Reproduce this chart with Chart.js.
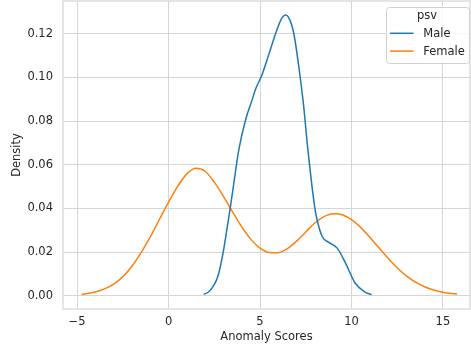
<!DOCTYPE html>
<html>
<head>
<meta charset="utf-8">
<script src="https://cdn.jsdelivr.net/npm/chart.js@4/dist/chart.umd.min.js"></script>
<style>
    body { margin: 0; background: #fff; }
    #contenedor { width: 471px; height: 349px; }
</style>
</head>
<body>
<div id="contenedor"><canvas id="grafica" width="471" height="349"></canvas></div>
<script>
// curvas de densidad (kde) por grupo
var x_male = [1.92, 2.2, 2.4, 2.6, 2.75, 3.0, 3.2, 3.37, 3.57, 3.84, 4.21, 4.57, 4.75, 5.1, 5.5, 5.85, 6.15, 6.4, 6.65, 6.85, 7.12, 7.39, 7.58, 7.76, 8.0, 8.12, 8.4, 8.76, 9.22, 9.67, 10.2, 10.77, 11.1]
var y_male = [0.0006, 0.0018, 0.0038, 0.0068, 0.0104, 0.0205, 0.031, 0.040, 0.0516, 0.0668, 0.0805, 0.0897, 0.0945, 0.101, 0.111, 0.120, 0.1265, 0.1286, 0.126, 0.120, 0.105, 0.0866, 0.0699, 0.056, 0.040, 0.0348, 0.0271, 0.0244, 0.0218, 0.015, 0.0058, 0.0015, 0.0005]

var x_female = [-4.75, -4.5, -4.0, -3.5, -3.0, -2.5, -2.0, -1.5, -1.0, -0.5, 0.0, 0.5, 1.0, 1.5, 2.0, 2.5, 3.0, 3.5, 4.0, 4.5, 5.0, 5.5, 6.0, 6.5, 7.0, 7.5, 8.0, 8.5, 9.0, 9.5, 10.0, 10.5, 11.0, 11.5, 12.0, 12.5, 13.0, 13.5, 14.0, 14.5, 15.0, 15.5, 15.77]
var y_female = [0.0005, 0.0009, 0.0017, 0.0031, 0.0053, 0.0087, 0.0135, 0.0197, 0.0269, 0.0349, 0.0429, 0.0501, 0.0558, 0.0584, 0.0570, 0.0520, 0.0455, 0.0384, 0.0315, 0.0258, 0.0218, 0.0198, 0.0197, 0.0216, 0.0250, 0.0292, 0.0333, 0.0362, 0.0375, 0.0371, 0.0348, 0.0313, 0.0268, 0.0220, 0.0172, 0.0128, 0.0091, 0.0062, 0.0041, 0.0026, 0.0016, 0.0010, 0.0008]

var ticks_x = [-5, 0, 5, 10, 15]
var ticks_y = [0, 0.02, 0.04, 0.06, 0.08, 0.10, 0.12]
var grupos = ["Male", "Female"]
var titulo_leyenda = "psv"

var color_grupos = ["#1f77b4", "#ff7f0e"]
var color_rejilla = "#d6d6d6"
var color_texto = "#262626"
var fuente = "DejaVu Sans"

function unir(xs, ys) {
    var puntos = []
    xs.forEach((x, i) => puntos.push({ x: x, y: ys[i] }))
    return puntos
}

// marco completo del area de la grafica (estilo whitegrid)
var marco = {
    id: "marco",
    beforeDatasetsDraw(chart) {
        var a = chart.chartArea
        var ctx = chart.ctx
        ctx.save()
        ctx.strokeStyle = color_rejilla
        ctx.lineWidth = 1.25
        ctx.strokeRect(a.left, a.top, a.right - a.left, a.bottom - a.top)
        ctx.restore()
    }
}

// leyenda dentro de la grafica, arriba a la derecha
var leyenda = {
    id: "leyenda",
    afterDraw(chart) {
        var ctx = chart.ctx
        var caja = { x: 386.5, y: 7.5, w: 83, h: 56 }
        ctx.save()
        ctx.beginPath()
        ctx.roundRect(caja.x, caja.y, caja.w, caja.h, 3)
        ctx.fillStyle = "rgba(255,255,255,0.8)"
        ctx.fill()
        ctx.strokeStyle = "#d0d0d0"
        ctx.lineWidth = 1
        ctx.stroke()

        ctx.font = "11.5px '" + fuente + "'"
        ctx.fillStyle = color_texto
        ctx.textBaseline = "alphabetic"
        ctx.textAlign = "center"
        ctx.fillText(titulo_leyenda, 427, 18.5)

        ctx.textAlign = "left"
        grupos.forEach((g, i) => {
            var y = 33.3 + i * 17.8
            ctx.beginPath()
            ctx.moveTo(390, y)
            ctx.lineTo(413.5, y)
            ctx.strokeStyle = color_grupos[i]
            ctx.lineWidth = 1.5
            ctx.stroke()
            ctx.fillStyle = color_texto
            ctx.fillText(g, 423.3, y + 4)
        })
        ctx.restore()
    }
}

function serie(i, xs, ys) {
    return {
        label: grupos[i],
        data: unir(xs, ys),
        borderColor: color_grupos[i],
        borderWidth: 1.5,
        pointRadius: 0,
        cubicInterpolationMode: "monotone",
        fill: false
    }
}

var carga = {
    type: "line",
    data: {
        datasets: [serie(0, x_male, y_male), serie(1, x_female, y_female)]
    },
    options: {
        responsive: false,
        animation: false,
        layout: { padding: { top: 1, right: 1, left: 0, bottom: 0 } },
        plugins: {
            legend: { display: false },
            tooltip: { enabled: false }
        },
        scales: {
            x: {
                type: "linear",
                min: -5.77,
                max: 16.48,
                afterFit: (escala) => {
                    escala.height = 40
                    escala.paddingLeft = 0
                    escala.paddingRight = 0
                },
                afterBuildTicks: (escala) => { escala.ticks = ticks_x.map(v => ({ value: v })) },
                grid: { color: color_rejilla, lineWidth: 1, drawTicks: false },
                border: { display: false },
                ticks: {
                    padding: 6,
                    color: color_texto,
                    font: { family: fuente, size: 11.5 },
                    callback: (v) => (v < 0 ? "\u2212" + Math.abs(v) : "" + v)
                },
                title: {
                    display: true,
                    text: "Anomaly Scores",
                    color: color_texto,
                    font: { family: fuente, size: 11.5 },
                    padding: { top: 0, bottom: 5 }
                }
            },
            y: {
                type: "linear",
                min: -0.0061,
                max: 0.135,
                afterFit: (escala) => {
                    escala.width = 63
                    escala.paddingTop = 0
                    escala.paddingBottom = 0
                },
                afterBuildTicks: (escala) => { escala.ticks = ticks_y.map(v => ({ value: v })) },
                grid: { color: color_rejilla, lineWidth: 1, drawTicks: false },
                border: { display: false },
                ticks: {
                    padding: 10,
                    color: color_texto,
                    font: { family: fuente, size: 11.5 },
                    callback: (v) => v.toFixed(2)
                },
                title: {
                    display: true,
                    text: "Density",
                    color: color_texto,
                    font: { family: fuente, size: 11.5 },
                    padding: { top: 10, bottom: 0 }
                }
            }
        }
    },
    plugins: [marco, leyenda]
}

var grafica = new Chart(document.getElementById("grafica"), carga)
</script>
</body>
</html>
